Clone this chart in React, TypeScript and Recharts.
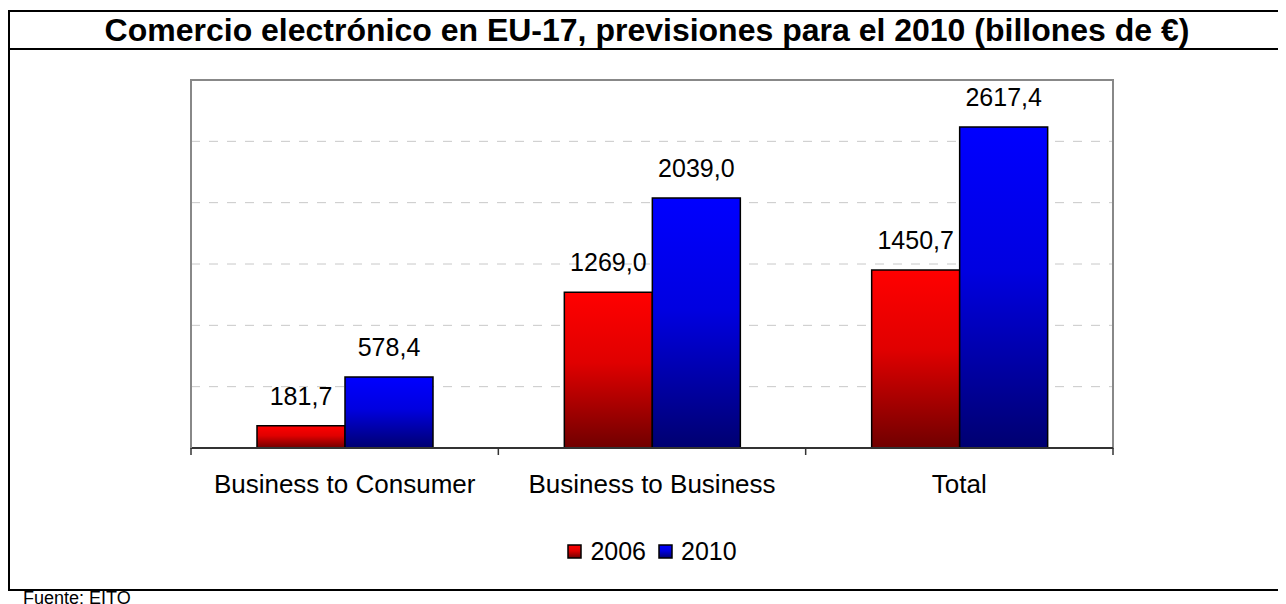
import React from 'react'
import {
  BarChart,
  Bar,
  XAxis,
  YAxis,
  CartesianGrid,
  LabelList,
  Legend,
  ReferenceArea,
} from 'recharts'

const categories = ['Business to Consumer', 'Business to Business', 'Total']
const values2006 = [181.7, 1269.0, 1450.7]
const values2010 = [578.4, 2039.0, 2617.4]
const yTicks = [0, 500, 1000, 1500, 2000, 2500, 3000]

const data = categories.map((name, i) => ({
  name,
  y2006: values2006[i],
  y2010: values2010[i],
}))

const FONT = 'Arial, "Liberation Sans", sans-serif'
const fmt = (v: any) => Number(v).toFixed(1).replace('.', ',')

const legendItems = [
  { label: '2006', fill: 'url(#gradRed)' },
  { label: '2010', fill: 'url(#gradBlue)' },
]

const LegendContent = () => (
  <div
    style={{
      display: 'flex',
      justifyContent: 'center',
      alignItems: 'center',
      gap: 12,
      fontFamily: FONT,
      fontSize: 25,
      lineHeight: '28px',
      color: '#000',
    }}
  >
    {legendItems.map((it) => (
      <div key={it.label} style={{ display: 'flex', alignItems: 'center' }}>
        <svg width={15} height={15} style={{ marginRight: 8 }}>
          <rect x={1} y={1} width={13} height={13} fill={it.fill} stroke="#000" strokeWidth={1.5} />
        </svg>
        <span>{it.label}</span>
      </div>
    ))}
  </div>
)

const EmptyTick = () => <g />

// category name at the band centre, tick marks at the band edges
const CategoryTick = ({ x, y, payload, index }: any) => {
  const half = Number(payload?.offset) || 0
  const last = index === categories.length - 1
  return (
    <g>
      <line x1={x - half} x2={x - half} y1={y} y2={y + 7} stroke="#333" strokeWidth={1.5} />
      {last && <line x1={x + half} x2={x + half} y1={y} y2={y + 7} stroke="#333" strokeWidth={1.5} />}
      <text x={x} y={y + 45} textAnchor="middle" fill="#000" fontSize={26} fontFamily={FONT}>
        {payload.value}
      </text>
    </g>
  )
}

export default function App() {
  return (
    <div style={{ position: 'relative', width: 1278, height: 596, overflow: 'hidden' }}>
      {/* outer frame */}
      <div
        style={{
          position: 'absolute',
          left: 0,
          top: 2,
          width: 1300,
          height: 577,
          borderLeft: '2px solid #000',
          borderTop: '2px solid #000',
          borderBottom: '2px solid #000',
        }}
      />
      <div
        style={{
          position: 'absolute',
          left: 0,
          top: 40,
          width: 1300,
          borderTop: '2px solid #000',
        }}
      />
      <div
        style={{
          position: 'absolute',
          left: 0,
          top: 4,
          width: 1278,
          textAlign: 'center',
          fontFamily: FONT,
          fontWeight: 'bold',
          fontSize: 32,
          lineHeight: '36px',
        }}
      >
        Comercio electrónico en EU-17, previsiones para el 2010 (billones de €)
      </div>
      <div
        style={{
          position: 'absolute',
          left: 15,
          top: 580,
          fontFamily: FONT,
          fontSize: 18,
          lineHeight: '20px',
        }}
      >
        Fuente: EITO
      </div>
      <div style={{ position: 'absolute', left: -8, top: -8 }}>
        <BarChart
          width={1286}
          height={604}
          data={data}
          margin={{ top: 80, right: 173, left: 190, bottom: 116 }}
          barGap={0}
          barSize={88}
        >
          <defs>
            <linearGradient id="gradRed" x1="0" y1="0" x2="0" y2="1">
              <stop offset="0%" stopColor="#ff0000" />
              <stop offset="45%" stopColor="#e00000" />
              <stop offset="100%" stopColor="#700000" />
            </linearGradient>
            <linearGradient id="gradBlue" x1="0" y1="0" x2="0" y2="1">
              <stop offset="0%" stopColor="#0000ff" />
              <stop offset="45%" stopColor="#0000e0" />
              <stop offset="100%" stopColor="#000070" />
            </linearGradient>
          </defs>
          <CartesianGrid vertical={false} stroke="#c8c8c8" strokeDasharray="9 9" />
          <ReferenceArea y1={0} y2={3000} fill="none" stroke="#888" strokeWidth={2} />
          <XAxis
            dataKey="name"
            tick={<CategoryTick />}
            tickLine={false}
            tickSize={0}
            tickMargin={0}
            interval={0}
            height={40}
            axisLine={{ stroke: '#333', strokeWidth: 2 }}
          />
          <YAxis
            domain={[0, 3000]}
            ticks={yTicks}
            tick={<EmptyTick />}
            tickLine={false}
            width={1}
            axisLine={{ stroke: '#888', strokeWidth: 2 }}
          />
          <Legend
            layout="horizontal"
            verticalAlign="middle"
            align="center"
            content={<LegendContent />}
            wrapperStyle={{ top: 537, left: 191, width: 922 }}
          />
          <Bar dataKey="y2006" name="2006" fill="url(#gradRed)" stroke="#000" strokeWidth={1.5} isAnimationActive={false}>
            <LabelList
              dataKey="y2006"
              position="top"
              offset={21}
              formatter={fmt}
              style={{ fill: '#000', fontSize: 25, fontFamily: FONT }}
            />
          </Bar>
          <Bar dataKey="y2010" name="2010" fill="url(#gradBlue)" stroke="#000" strokeWidth={1.5} isAnimationActive={false}>
            <LabelList
              dataKey="y2010"
              position="top"
              offset={21}
              formatter={fmt}
              style={{ fill: '#000', fontSize: 25, fontFamily: FONT }}
            />
          </Bar>
        </BarChart>
      </div>
    </div>
  )
}
